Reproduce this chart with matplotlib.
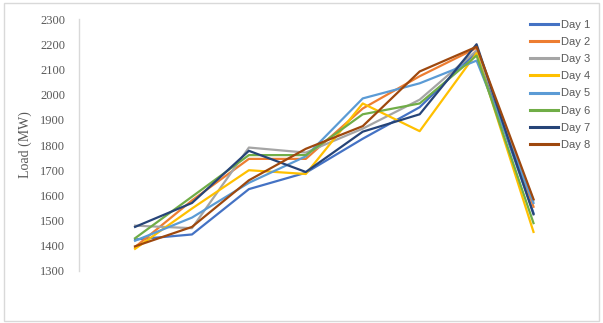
import matplotlib
matplotlib.use('Agg')
import matplotlib.pyplot as plt
from matplotlib.patches import Rectangle

# hourly load samples for each day (MW)
hours = [0, 1, 2, 3, 4, 5, 6, 7]
day_names = ['Day 1', 'Day 2', 'Day 3', 'Day 4', 'Day 5', 'Day 6', 'Day 7', 'Day 8']
day1 = [1425, 1445, 1625, 1690, 1825, 1950, 2170, 1530]
day2 = [1395, 1580, 1745, 1745, 1945, 2073, 2185, 1555]
day3 = [1480, 1470, 1790, 1770, 1865, 1980, 2175, 1580]
day4 = [1388, 1548, 1700, 1685, 1965, 1855, 2165, 1455]
day5 = [1420, 1512, 1650, 1755, 1985, 2045, 2135, 1570]
day6 = [1430, 1595, 1760, 1760, 1922, 1965, 2155, 1490]
day7 = [1475, 1570, 1777, 1693, 1853, 1922, 2200, 1525]
day8 = [1398, 1475, 1660, 1785, 1875, 2092, 2190, 1585]
loads = [day1, day2, day3, day4, day5, day6, day7, day8]
y_ticks = [1300, 1400, 1500, 1600, 1700, 1800, 1900, 2000, 2100, 2200, 2300]

colors = ['#4472C4', '#ED7D31', '#A5A5A5', '#FFC000',
          '#5B9BD5', '#70AD47', '#264478', '#9E480E']

fig = plt.figure(figsize=(6.03, 3.23), dpi=100)
ax = fig.add_axes([0.131, 0.161, 0.80, 0.780])

for vals, name, c in zip(loads, day_names, colors):
    ax.plot(hours, vals, color=c, lw=1.6, label=name)

ax.set_xlim(-0.985, 7.49)
ax.set_ylim(1300, 2300)
ax.set_yticks(y_ticks)
ax.set_yticklabels([str(t) for t in y_ticks], family='Liberation Serif',
                   fontsize=9, color='#595959')
ax.tick_params(axis='y', length=0, pad=10)
ax.set_xticks([])
for s in ['top', 'right', 'bottom']:
    ax.spines[s].set_visible(False)
ax.spines['left'].set_color('#D9D9D9')
ax.spines['left'].set_linewidth(1.0)
ax.set_ylabel('Load (MW)', family='Liberation Serif', fontsize=10,
              color='#595959', labelpad=6)

leg = fig.legend(loc='upper left', bbox_to_anchor=(0.872, 0.952),
                 frameon=False, handlelength=2.5, handletextpad=0.25,
                 labelspacing=0.64, borderaxespad=0,
                 prop={'family': 'Liberation Sans', 'size': 8})
for t in leg.get_texts():
    t.set_color('#595959')
for l in leg.get_lines():
    l.set_linewidth(2.2)

# chart area border
fig.patches.append(Rectangle((0.006, 0.006), 0.988, 0.986, transform=fig.transFigure,
                             fill=False, edgecolor='#D9D9D9', lw=1.0))

fig.savefig('out.png', dpi=100)
